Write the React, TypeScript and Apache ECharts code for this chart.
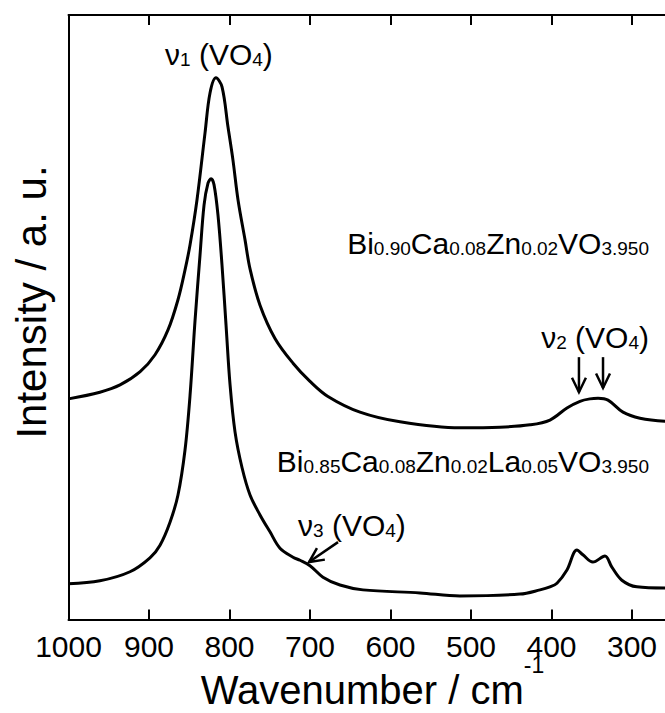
import React, { useEffect, useRef } from "react";
import * as echarts from "echarts";

// Raman spectra, wavenumber (cm-1) vs intensity (arbitrary units, 0-100 frame)
const wavenumberTicks = [1000, 900, 800, 700, 600, 500, 400, 300];

const upperWavenumber = [
  1000, 961, 936, 911, 892.5, 876.4, 864, 855.3, 849, 840.4, 830.4, 824.2, 816.8,
  809.3, 801.9, 795.7, 789.4, 780.7, 774.5, 762.1, 743.5, 721.1, 700, 677.7, 637.9,
  588.2, 513.7, 464, 426.7, 401.9, 380.8, 364.6, 352.2, 342.2, 329.8, 311.2, 290.1,
  259, 200,
];
const upperIntensity = [
  36.5, 37.6, 38.8, 41.0, 43.8, 47.9, 52.9, 57.8, 62.0, 69.4, 80.5, 87.1, 89.6,
  88.1, 81.5, 76.0, 69.4, 62.8, 58.0, 52.0, 46.5, 42.4, 39.4, 36.9, 34.3,
  32.7, 31.7, 31.8, 32.2, 33.0, 35.0, 36.1, 36.5, 36.6, 36.3, 34.3, 33.3,
  32.8, 32.6,
];

const lowerWavenumber = [
  1000, 961, 923.6, 898.8, 886.3, 873.9, 864, 855.3, 849, 842.8, 836.6, 831.6, 826.7,
  822.9, 819.2, 814.3, 809.3, 804.3, 799.3, 793.1, 784.4, 774.5, 762.1, 749.7, 737.3,
  721.1, 712.4, 700, 683.9, 662.8, 634.2, 563.4, 513.7, 439.2, 414.3, 401.9, 393.2,
  380.8, 368.4, 361, 348.6, 333.6, 325.2, 312.6, 294, 259.2, 200,
];
const lowerIntensity = [
  5.9, 6.4, 7.9, 10.2, 12.3, 16.1, 20.6, 28.0, 37.1, 49.5, 60.3, 68.6, 72.2,
  72.9, 71.9, 66.9, 58.6, 48.7, 38.8, 31.0, 25.1, 20.6, 17.3, 14.5, 11.8,
  10.3, 9.8, 8.9, 7.0, 5.7, 4.9, 4.4, 3.9, 4.2, 4.9, 5.4, 6.0,
  8.2, 11.5, 10.7, 9.5, 10.5, 8.7, 6.5, 5.4, 5.2, 5.2,
];

// Annotation arrows: [from wavenumber, from intensity, tip wavenumber, tip intensity]
const arrowSegments = [
  [365.9, 43.4, 365.9, 37.6],
  [336.0, 43.4, 336.0, 38.3],
  [665.2, 12.8, 701.2, 9.5],
];

const FONT = "'Liberation Sans', Arial, sans-serif";

const zip = (xs: number[], ys: number[]) => xs.map((x, i) => [x, ys[i]]);

const mainStyle = { fontSize: 30, lineHeight: 30, fontFamily: FONT, color: "#000", verticalAlign: "bottom" };
const subStyle = { fontSize: 19, lineHeight: 16, fontFamily: FONT, color: "#000", verticalAlign: "bottom" };
const richText = { m: mainStyle, s: subStyle };

function label(text: string, x: number, y: number, align: string) {
  return {
    type: "text",
    x,
    y,
    silent: true,
    style: {
      text,
      align,
      verticalAlign: "middle",
      rich: richText,
      fill: "#000",
    },
  };
}

export default function App() {
  const ref = useRef<HTMLDivElement>(null);

  useEffect(() => {
    if (!ref.current) return;
    const chart = echarts.init(ref.current, null, { renderer: "svg" });

    const xCommon = {
      type: "value",
      min: 200,
      max: 1000,
      interval: 100,
      inverse: true,
      splitLine: { show: false },
      axisLine: { show: true, lineStyle: { color: "#000", width: 2 } },
      axisTick: { show: true, inside: true, length: 10, lineStyle: { color: "#000", width: 2 } },
    };

    chart.setOption({
      animation: false,
      backgroundColor: "#fff",
      grid: {
        left: 68.5,
        top: 15,
        width: 644,
        bottom: 93.5,
        containLabel: false,
        outerBoundsMode: "none",
      },
      xAxis: [
        {
          ...xCommon,
          position: "bottom",
          axisLabel: {
            show: true,
            fontSize: 30,
            fontFamily: FONT,
            color: "#000",
            margin: 12,
            formatter: (v: number) => (wavenumberTicks.includes(v) ? String(v) : ""),
          },
          name: "{m|Wavenumber / cm}{sup|-1}",
          nameLocation: "middle",
          nameGap: 34,
          nameMoveOverlap: false,
          nameTextStyle: {
            padding: [0, 36, 0, 0],
            rich: {
              m: { fontSize: 40, lineHeight: 56, fontFamily: FONT, color: "#000", verticalAlign: "bottom" },
              sup: { fontSize: 23, lineHeight: 20, fontFamily: FONT, color: "#000", verticalAlign: "top" },
            },
          },
        },
        {
          ...xCommon,
          position: "top",
          axisLabel: { show: false },
        },
      ],
      yAxis: {
        type: "value",
        min: 0,
        max: 100,
        axisLine: { show: true, lineStyle: { color: "#000", width: 2 } },
        axisTick: { show: false },
        axisLabel: { show: false },
        splitLine: { show: false },
      },
      series: [
        {
          type: "line",
          data: zip(upperWavenumber, upperIntensity),
          showSymbol: false,
          smooth: 0.35,
          lineStyle: { color: "#000", width: 3 },
          clip: true,
        },
        {
          type: "line",
          data: zip(lowerWavenumber, lowerIntensity),
          showSymbol: false,
          smooth: 0.35,
          lineStyle: { color: "#000", width: 3 },
          clip: true,
        },
        {
          type: "custom",
          data: arrowSegments,
          encode: { x: [0, 2], y: [1, 3] },
          renderItem: (_params: any, api: any) => {
            const p0 = api.coord([api.value(0), api.value(1)]);
            const p1 = api.coord([api.value(2), api.value(3)]);
            const ang = Math.atan2(p1[1] - p0[1], p1[0] - p0[0]);
            const len = 16;
            const spread = 0.45;
            const h1 = [p1[0] - len * Math.cos(ang - spread), p1[1] - len * Math.sin(ang - spread)];
            const h2 = [p1[0] - len * Math.cos(ang + spread), p1[1] - len * Math.sin(ang + spread)];
            return {
              type: "group",
              children: [
                {
                  type: "line",
                  shape: { x1: p0[0], y1: p0[1], x2: p1[0], y2: p1[1] },
                  style: { stroke: "#000", lineWidth: 2.5 },
                },
                {
                  type: "polyline",
                  shape: { points: [h1, p1, h2] },
                  style: { stroke: "#000", fill: "none", lineWidth: 2.5 },
                },
              ],
            };
          },
        },
      ],
      graphic: [
        {
          type: "text",
          x: 31,
          y: 302,
          rotation: Math.PI / 2,
          silent: true,
          style: {
            text: "Intensity / a. u.",
            fontSize: 42,
            fontFamily: FONT,
            fill: "#000",
            align: "center",
            verticalAlign: "middle",
          },
        },
        label("{m|ν}{s|1}{m| (VO}{s|4}{m|)}", 165, 54, "left"),
        label("{m|Bi}{s|0.90}{m|Ca}{s|0.08}{m|Zn}{s|0.02}{m|VO}{s|3.950}", 649, 243, "right"),
        label("{m|ν}{s|2}{m| (VO}{s|4}{m|)}", 649, 337, "right"),
        label("{m|Bi}{s|0.85}{m|Ca}{s|0.08}{m|Zn}{s|0.02}{m|La}{s|0.05}{m|VO}{s|3.950}", 649, 461, "right"),
        label("{m|ν}{s|3}{m| (VO}{s|4}{m|)}", 298, 525, "left"),
      ],
    });

    return () => chart.dispose();
  }, []);

  return (
    <div
      style={{
        position: "fixed",
        left: 0,
        top: 0,
        width: 665,
        height: 713,
        overflow: "hidden",
        background: "#fff",
      }}
    >
      <div ref={ref} style={{ width: 720, height: 713 }} />
    </div>
  );
}
